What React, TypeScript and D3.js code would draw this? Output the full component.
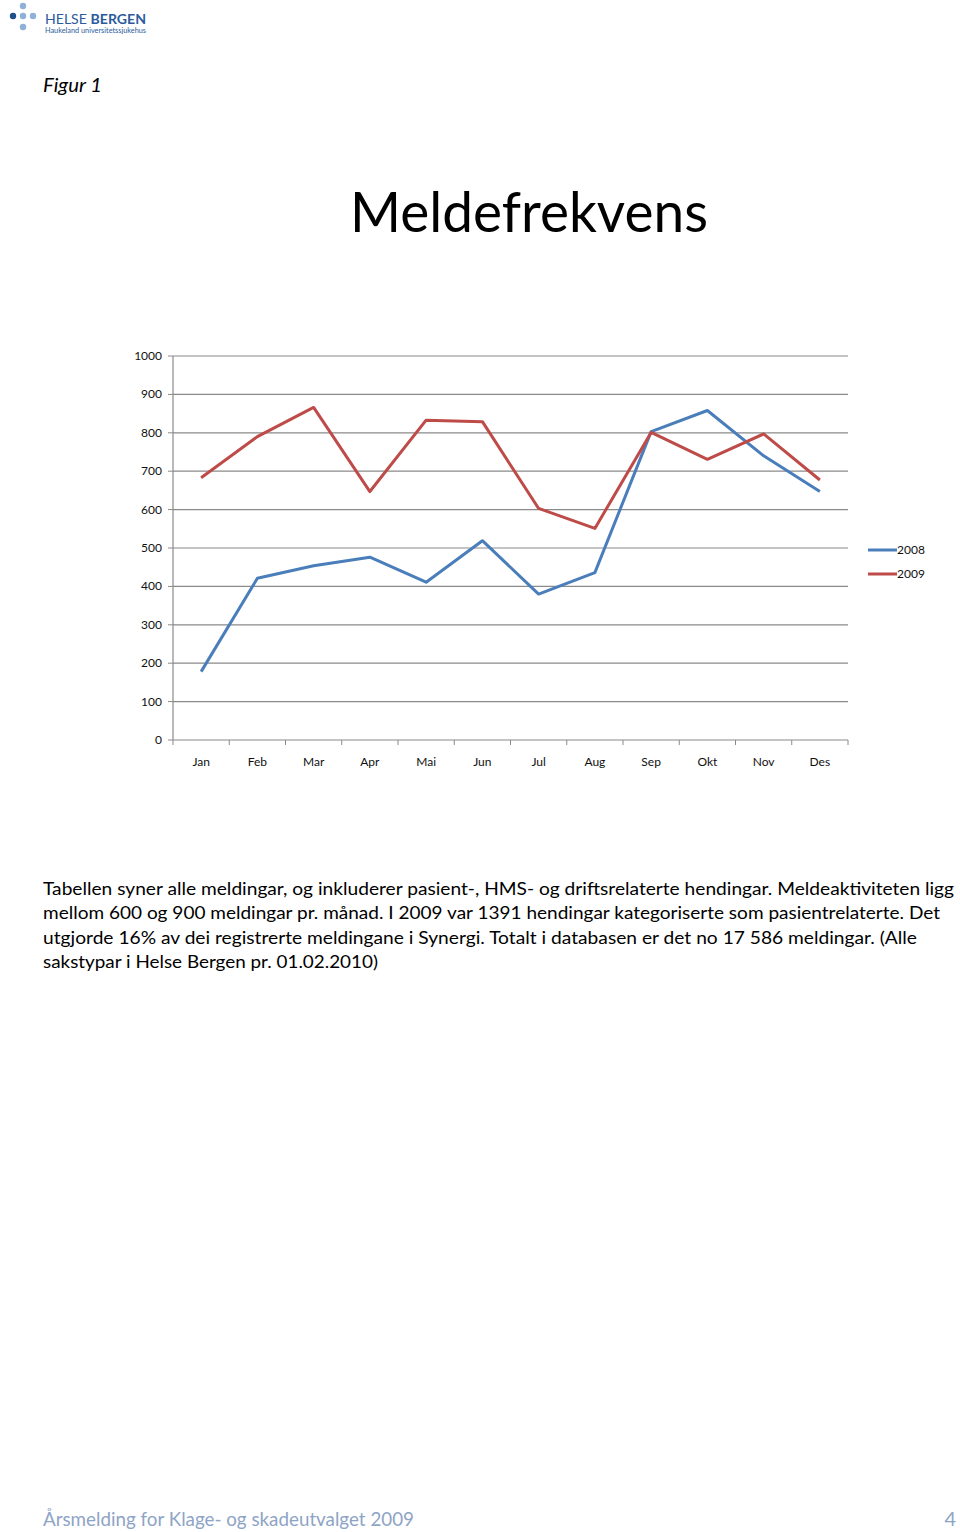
import React from "react";
import * as d3 from "d3";

const months = ["Jan", "Feb", "Mar", "Apr", "Mai", "Jun", "Jul", "Aug", "Sep", "Okt", "Nov", "Des"];
const values2008 = [178, 421, 454, 476, 411, 519, 380, 436, 803, 858, 740, 647];
const values2009 = [683, 790, 866, 647, 833, 829, 603, 551, 801, 731, 797, 677];
const yTicks = [0, 100, 200, 300, 400, 500, 600, 700, 800, 900, 1000];
const seriesNames = ["2008", "2009"];
const seriesColors = ["#4a7ebb", "#be4b48"];

const paragraphLines = [
  "Tabellen syner alle meldingar, og inkluderer pasient-, HMS- og driftsrelaterte hendingar. Meldeaktiviteten ligg",
  "mellom 600 og 900 meldingar pr. månad. I 2009 var 1391 hendingar kategoriserte som pasientrelaterte. Det",
  "utgjorde 16% av dei registrerte meldingane i Synergi. Totalt i databasen er det no 17 586 meldingar. (Alle",
  "sakstypar i Helse Bergen pr. 01.02.2010)",
];
const paragraphWidths = [911, 897, 874, 335];

export default function App() {
  const left = 173, right = 848, top = 356, bottom = 740;
  const x = d3.scaleBand<string>().domain(months).range([left, right]);
  const y = d3.scaleLinear().domain([0, 1000]).range([bottom, top]);
  const line = d3
    .line<number>()
    .x((_, i) => (x(months[i]) as number) + x.bandwidth() / 2)
    .y((d) => y(d));
  const series = [values2008, values2009];
  const font = "Lato, 'Open Sans', sans-serif";
  const gridColor = "#8a8a8a";

  return (
    <svg
      width={960}
      height={1532}
      style={{ position: "absolute", left: 0, top: 0, background: "#fff" }}
      fontFamily={font}
    >
      {/* logo */}
      <g>
        <circle cx={23} cy={6} r={3.2} fill="#8fb0d8" />
        <circle cx={13} cy={16} r={3.2} fill="#1f4e8c" />
        <circle cx={23} cy={16} r={3.2} fill="#8fb0d8" />
        <circle cx={33} cy={16} r={3.2} fill="#8fb0d8" />
        <circle cx={23} cy={27} r={3.2} fill="#8fb0d8" />
        <text x={45} y={24} fontSize={13.5} fill="#2c5b9b" textLength={101} lengthAdjust="spacingAndGlyphs">
          HELSE <tspan fontWeight="bold">BERGEN</tspan>
        </text>
        <text x={45} y={33} fontSize={7} fill="#2c5b9b" textLength={101} lengthAdjust="spacingAndGlyphs">
          Haukeland universitetssjukehus
        </text>
      </g>

      <text x={43} y={92} fontSize={19} fontStyle="italic" fill="#000" textLength={59} lengthAdjust="spacingAndGlyphs">
        Figur 1
      </text>

      <text x={350} y={232} fontSize={56} fill="#000" textLength={358} lengthAdjust="spacingAndGlyphs">
        Meldefrekvens
      </text>

      {/* grid */}
      {yTicks.map((t) => (
        <g key={t}>
          {t > 0 && <line x1={left} x2={right} y1={y(t)} y2={y(t)} stroke={gridColor} strokeWidth={1.2} />}
          <line x1={left - 5} x2={left} y1={y(t)} y2={y(t)} stroke={gridColor} strokeWidth={1} />
          <text x={162} y={y(t) + 4} fontSize={12} textAnchor="end" fill="#111">
            {t}
          </text>
        </g>
      ))}
      <line x1={left} x2={left} y1={top} y2={bottom} stroke={gridColor} strokeWidth={1.2} />
      <line x1={left} x2={right} y1={bottom} y2={bottom} stroke={gridColor} strokeWidth={1.2} />
      {months.map((m) => (
        <line
          key={"t" + m}
          x1={(x(m) as number) + x.bandwidth()}
          x2={(x(m) as number) + x.bandwidth()}
          y1={bottom}
          y2={bottom + 5}
          stroke={gridColor}
        />
      ))}
      <line x1={left} x2={left} y1={bottom} y2={bottom + 5} stroke={gridColor} />
      {months.map((m) => (
        <text
          key={m}
          x={(x(m) as number) + x.bandwidth() / 2}
          y={766}
          fontSize={12}
          textAnchor="middle"
          fill="#111"
        >
          {m}
        </text>
      ))}

      {series.map((s, i) => (
        <path
          key={i}
          d={line(s) || ""}
          fill="none"
          stroke={seriesColors[i]}
          strokeWidth={3}
          strokeLinejoin="round"
        />
      ))}

      {/* legend */}
      {seriesNames.map((n, i) => (
        <g key={n}>
          <line x1={868} x2={897} y1={550 + i * 24} y2={550 + i * 24} stroke={seriesColors[i]} strokeWidth={3} />
          <text x={897} y={554 + i * 24} fontSize={12} fill="#111">
            {n}
          </text>
        </g>
      ))}

      {paragraphLines.map((l, i) => (
        <text
          key={i}
          x={43}
          y={895 + i * 24.3}
          fontSize={18}
          fill="#000"
          textLength={paragraphWidths[i]}
          lengthAdjust="spacingAndGlyphs"
        >
          {l}
        </text>
      ))}

      <text x={43} y={1526} fontSize={20} fill="#8ea4c6" textLength={371} lengthAdjust="spacingAndGlyphs">
        Årsmelding for Klage- og skadeutvalget 2009
      </text>
      <text x={956} y={1526} fontSize={20} fill="#8ea4c6" textAnchor="end">
        4
      </text>
    </svg>
  );
}
